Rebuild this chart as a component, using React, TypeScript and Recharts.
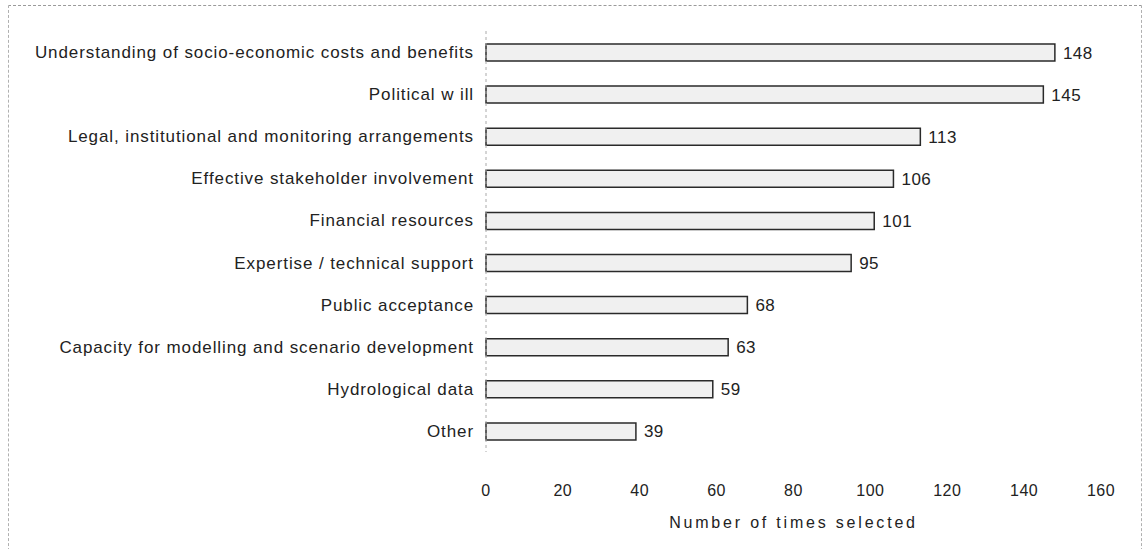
import React from "react";
import { BarChart, Bar, XAxis, YAxis, LabelList, Label } from "recharts";

const categories = [
  "Understanding of socio-economic costs and benefits",
  "Political w ill",
  "Legal, institutional and monitoring arrangements",
  "Effective stakeholder involvement",
  "Financial resources",
  "Expertise / technical support",
  "Public acceptance",
  "Capacity for modelling and scenario development",
  "Hydrological data",
  "Other",
];
const timesSelected = [148, 145, 113, 106, 101, 95, 68, 63, 59, 39];
const xTicks = [0, 20, 40, 60, 80, 100, 120, 140, 160];
const xAxisTitle = "Number of times selected";

const data = categories.map((name, i) => ({ name, value: timesSelected[i] }));

const FONT = "'Liberation Sans', Arial, sans-serif";

export default function App() {
  return (
    <div style={{ position: "absolute", left: 0, top: 0, width: 1145, height: 549, background: "#fff", fontFamily: FONT }}>
      <div
        style={{
          position: "absolute",
          left: 8,
          top: 5,
          width: 1132,
          height: 560,
          borderTop: "1px dashed #9a9a9a",
          borderLeft: "1px dashed #b0b0b0",
          borderRight: "1px dashed #b0b0b0",
        }}
      />
      <div style={{ position: "absolute", left: 0, top: 0 }}>
        <BarChart
          width={1145}
          height={549}
          data={data}
          layout="vertical"
          margin={{ top: 31, right: 44, bottom: 17, left: 0 }}
          barCategoryGap={0}
        >
          <XAxis
            type="number"
            domain={[0, 160]}
            ticks={xTicks}
            axisLine={false}
            tickLine={false}
            tickSize={8}
            tickMargin={25}
            height={80}
            tick={{ fill: "#222", fontSize: 16, fontFamily: FONT, letterSpacing: 0.5 }}
          >
            <Label
              value={xAxisTitle}
              position="insideBottom"
              offset={4}
              style={{ fill: "#222", fontSize: 16, fontFamily: FONT, letterSpacing: 2.8 }}
            />
          </XAxis>
          <YAxis
            type="category"
            dataKey="name"
            width={486}
            axisLine={{ stroke: "#aaa", strokeDasharray: "3 3" }}
            tickLine={false}
            tickSize={0}
            tickMargin={12}
            interval={0}
            tick={{ fill: "#222", fontSize: 17, fontFamily: FONT, letterSpacing: 0.9 }}
          />
          <Bar
            dataKey="value"
            barSize={17}
            fill="#f0f0f0"
            stroke="#2a2a2a"
            strokeWidth={1.5}
            isAnimationActive={false}
          >
            <LabelList
              dataKey="value"
              position="right"
              offset={8}
              style={{ fill: "#222", fontSize: 17, fontFamily: FONT, letterSpacing: 0.5 }}
            />
          </Bar>
        </BarChart>
      </div>
    </div>
  );
}
